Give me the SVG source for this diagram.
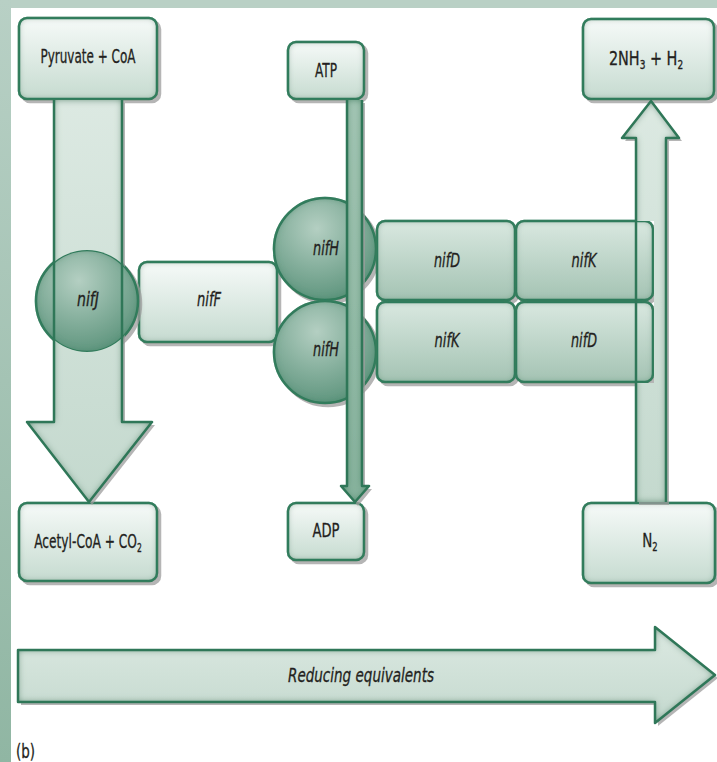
<svg xmlns="http://www.w3.org/2000/svg" width="717" height="762" viewBox="0 0 717 762">
  <style>
    .lbl { font-family: "DejaVu Sans Condensed", "DejaVu Sans", "Liberation Sans", sans-serif; font-stretch: condensed; font-size: 20px; fill: #231f20; stroke: #231f20; stroke-width: 0.3; text-anchor: middle; }
    .start { text-anchor: start; }
    .gene { font-style: italic; font-size: 19px; }
    .sub { font-size: 12.5px; }
    .edge { fill: none; stroke: #2f7758; stroke-width: 2.5; stroke-linejoin: round; }
    .box { stroke: #2f7758; stroke-width: 2.5; }
  </style>
  <defs>
    <linearGradient id="gLight" x1="0" y1="0" x2="0" y2="1">
      <stop offset="0" stop-color="#f6faf8"/>
      <stop offset="1" stop-color="#c6dbd0"/>
    </linearGradient>
    <linearGradient id="gMid" x1="0" y1="0" x2="0" y2="1">
      <stop offset="0" stop-color="#d9e8e0"/>
      <stop offset="1" stop-color="#a4c3b3"/>
    </linearGradient>
    <radialGradient id="gBall" cx="0.42" cy="0.3" r="0.75">
      <stop offset="0" stop-color="#b4cfc2"/>
      <stop offset="1" stop-color="#5a927a"/>
    </radialGradient>
    <linearGradient id="gShaft" x1="0" y1="0" x2="0" y2="1">
      <stop offset="0" stop-color="#dce9e2"/>
      <stop offset="1" stop-color="#c4d9ce"/>
    </linearGradient>
    <linearGradient id="gAtp" x1="0" y1="0" x2="0" y2="1">
      <stop offset="0" stop-color="#a2c5b3"/>
      <stop offset="1" stop-color="#86b19c"/>
    </linearGradient>
    <linearGradient id="gStrip" x1="0" y1="0" x2="0" y2="1">
      <stop offset="0" stop-color="#b8d0c5"/>
      <stop offset="1" stop-color="#90b6a3"/>
    </linearGradient>
    <!-- drop shadow plus a soft green inner edge -->
    <filter id="lift" x="-10%" y="-10%" width="125%" height="125%">
      <feOffset in="SourceAlpha" dx="3" dy="3" result="off"/>
      <feFlood flood-color="#9c9c9c" flood-opacity="0.75"/>
      <feComposite in2="off" operator="in" result="shadow"/>
      <feFlood flood-color="#3a8464" flood-opacity="1" result="gc"/>
      <feComposite in="gc" in2="SourceAlpha" operator="out" result="outside"/>
      <feGaussianBlur in="outside" stdDeviation="3.5" result="ob"/>
      <feComposite in="ob" in2="SourceAlpha" operator="in" result="glow"/>
      <feMerge>
        <feMergeNode in="shadow"/>
        <feMergeNode in="SourceGraphic"/>
        <feMergeNode in="glow"/>
      </feMerge>
    </filter>
    <mask id="mLeft">
      <rect x="0" y="0" width="717" height="762" fill="#fff"/>
      <circle cx="87" cy="301" r="51" fill="#000"/>
    </mask>
    <mask id="mRight">
      <rect x="0" y="0" width="717" height="762" fill="#fff"/>
      <rect x="377" y="221" width="277" height="162" fill="#000"/>
    </mask>
  </defs>

  <!-- page frame -->
  <rect x="0" y="0" width="717" height="762" fill="#ffffff"/>
  <rect x="0" y="0" width="717" height="8" fill="#b9d0c5"/>
  <rect x="0" y="0" width="11" height="762" fill="url(#gStrip)"/>

  <!-- nodes -->
  <g id="pyruvate" filter="url(#lift)">
    <rect class="box" x="19" y="18" width="138" height="81" rx="8" fill="url(#gLight)"/>
  </g>
  <g id="atp" filter="url(#lift)">
    <rect class="box" x="288" y="42" width="76" height="57" rx="8" fill="url(#gLight)"/>
  </g>
  <g id="ammonia" filter="url(#lift)">
    <rect class="box" x="583" y="19" width="131" height="80" rx="8" fill="url(#gLight)"/>
  </g>
  <g id="nifF" filter="url(#lift)">
    <rect class="box" x="139" y="262" width="138" height="80" rx="8" fill="url(#gLight)"/>
  </g>
  <g id="nifJ" filter="url(#lift)">
    <circle class="box" cx="87" cy="301" r="51" fill="url(#gBall)"/>
  </g>
  <g id="nifH-1" filter="url(#lift)">
    <circle class="box" cx="325" cy="249" r="51" fill="url(#gBall)"/>
  </g>
  <g id="nifH-2" filter="url(#lift)">
    <circle class="box" cx="325" cy="352" r="51" fill="url(#gBall)"/>
  </g>
  <g id="nifD-1" filter="url(#lift)">
    <rect class="box" x="377" y="221" width="138" height="79" rx="8" fill="url(#gMid)"/>
  </g>
  <g id="nifK-1" filter="url(#lift)">
    <rect class="box" x="516" y="221" width="137" height="79" rx="8" fill="url(#gMid)"/>
  </g>
  <g id="nifK-2" filter="url(#lift)">
    <rect class="box" x="377" y="302" width="138" height="80" rx="8" fill="url(#gMid)"/>
  </g>
  <g id="nifD-2" filter="url(#lift)">
    <rect class="box" x="516" y="302" width="137" height="80" rx="8" fill="url(#gMid)"/>
  </g>
  <g id="acetyl" filter="url(#lift)">
    <rect class="box" x="19" y="503" width="138" height="78" rx="8" fill="url(#gLight)"/>
  </g>
  <g id="adp" filter="url(#lift)">
    <rect class="box" x="288" y="503" width="76" height="57" rx="8" fill="url(#gLight)"/>
  </g>
  <g id="nitrogen" filter="url(#lift)">
    <rect class="box" x="583" y="503" width="132" height="80" rx="8" fill="url(#gLight)"/>
  </g>

  <!-- connectors -->
  <g id="connectors">
    <!-- pyruvate to acetyl-CoA -->
    <path d="M54,100 L122,100 L122,422 L152,422 L89,502 L27,422 L54,422 Z" fill="url(#gShaft)" mask="url(#mLeft)" filter="url(#lift)"/>
    <path class="edge" d="M54,100 L54,422 L27,422 L89,502 L152,422 L122,422 L122,100"/>
    <!-- ATP to ADP -->
    <path d="M347,100 L362,100 L362,486 L369,486 L355,503 L341,486 L347,486 Z" fill="url(#gAtp)" filter="url(#lift)"/>
    <path class="edge" d="M347,100 L347,486 L341,486 L355,502 L369,486 L362,486 L362,100"/>
    <!-- N2 to ammonia -->
    <path d="M636,502 L666,502 L666,138 L679,138 L651,101 L622,138 L636,138 Z" fill="url(#gShaft)" mask="url(#mRight)" filter="url(#lift)"/>
    <path class="edge" d="M636,502 L636,138 L622,138 L651,101 L679,138 L666,138 L666,502"/>
    <!-- reducing equivalents -->
    <path d="M18,650 L655,650 L655,627 L715,675 L655,723 L655,702 L18,702 Z" fill="url(#gShaft)" filter="url(#lift)"/>
    <path class="edge" d="M18,650 L655,650 L655,627 L715,675 L655,723 L655,702 L18,702 Z"/>
  </g>

  <!-- labels -->
  <text class="lbl" x="88" y="63" textLength="95" lengthAdjust="spacingAndGlyphs">Pyruvate + CoA</text>
  <text class="lbl" x="326" y="77" textLength="22" lengthAdjust="spacingAndGlyphs">ATP</text>
  <text class="lbl" transform="translate(646 65) scale(0.80 1)">2NH<tspan class="sub" dy="4">3</tspan><tspan dy="-4"> + H</tspan><tspan class="sub" dy="4">2</tspan></text>
  <text class="lbl gene" x="88" y="306" textLength="22" lengthAdjust="spacingAndGlyphs">nifJ</text>
  <text class="lbl gene" x="209" y="306" textLength="24" lengthAdjust="spacingAndGlyphs">nifF</text>
  <text class="lbl gene" x="326" y="255" textLength="26" lengthAdjust="spacingAndGlyphs">nifH</text>
  <text class="lbl gene" x="326" y="356" textLength="26" lengthAdjust="spacingAndGlyphs">nifH</text>
  <text class="lbl gene" x="447" y="267" textLength="26" lengthAdjust="spacingAndGlyphs">nifD</text>
  <text class="lbl gene" x="584" y="267" textLength="25" lengthAdjust="spacingAndGlyphs">nifK</text>
  <text class="lbl gene" x="447" y="347" textLength="25" lengthAdjust="spacingAndGlyphs">nifK</text>
  <text class="lbl gene" x="584" y="347" textLength="26" lengthAdjust="spacingAndGlyphs">nifD</text>
  <text class="lbl" transform="translate(88 548) scale(0.68 1)">Acetyl-CoA + CO<tspan class="sub" dy="4">2</tspan></text>
  <text class="lbl" x="326" y="537" textLength="27" lengthAdjust="spacingAndGlyphs">ADP</text>
  <text class="lbl" transform="translate(650 547) scale(0.75 1)">N<tspan class="sub" dy="4">2</tspan></text>
  <text class="lbl gene" x="361" y="682" textLength="146" lengthAdjust="spacingAndGlyphs">Reducing equivalents</text>
  <text class="lbl start" x="16" y="758" textLength="19" lengthAdjust="spacingAndGlyphs">(b)</text>
</svg>
